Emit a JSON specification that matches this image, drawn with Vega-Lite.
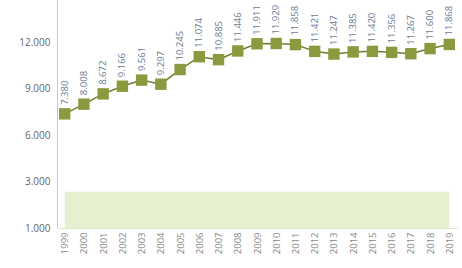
{
  "$schema": "https://vega.github.io/schema/vega-lite/v6.json",
  "width": 400,
  "height": 232,
  "autosize": {"type": "none"},
  "padding": {"left": 57, "top": -4, "right": 5, "bottom": 40},
  "config": {
    "view": {"stroke": null},
    "font": "Open Sans",
    "locale": {"number": {"decimal": ",", "thousands": ".", "grouping": [3], "currency": ["", "€"]}}
  },
  "data": {
    "values": [
      {"year": "1999", "value": 7380},
      {"year": "2000", "value": 8008},
      {"year": "2001", "value": 8672},
      {"year": "2002", "value": 9166},
      {"year": "2003", "value": 9561},
      {"year": "2004", "value": 9297},
      {"year": "2005", "value": 10245},
      {"year": "2006", "value": 11074},
      {"year": "2007", "value": 10885},
      {"year": "2008", "value": 11446},
      {"year": "2009", "value": 11911},
      {"year": "2010", "value": 11929},
      {"year": "2011", "value": 11858},
      {"year": "2012", "value": 11421},
      {"year": "2013", "value": 11247},
      {"year": "2014", "value": 11385},
      {"year": "2015", "value": 11420},
      {"year": "2016", "value": 11356},
      {"year": "2017", "value": 11267},
      {"year": "2018", "value": 11600},
      {"year": "2019", "value": 11868}
    ]
  },
  "layer": [
    {
      "data": {"values": [{"from": "1999", "to": "2019", "top": 2350, "base": 0}]},
      "mark": {"type": "rect", "color": "#e6efcf"},
      "encoding": {
        "x": {"field": "from", "type": "ordinal"},
        "x2": {"field": "to"},
        "y": {"field": "top", "type": "quantitative"},
        "y2": {"field": "base"}
      }
    },
    {
      "mark": {"type": "line", "color": "#6f7d2c", "strokeWidth": 1.5},
      "encoding": {
        "x": {"field": "year", "type": "ordinal"},
        "y": {"field": "value", "type": "quantitative"}
      }
    },
    {
      "mark": {"type": "square", "color": "#8a9a3e", "opacity": 1, "filled": true, "size": 130},
      "encoding": {
        "x": {"field": "year", "type": "ordinal"},
        "y": {"field": "value", "type": "quantitative"}
      }
    },
    {
      "mark": {"type": "text", "angle": 270, "align": "left", "baseline": "middle", "dx": 9, "fontSize": 9.5, "color": "#6b7b92"},
      "encoding": {
        "x": {"field": "year", "type": "ordinal"},
        "y": {"field": "value", "type": "quantitative"},
        "text": {"field": "value", "type": "quantitative", "format": ","}
      }
    }
  ],
  "encoding": {
    "x": {
      "field": "year",
      "type": "ordinal",
      "scale": {"type": "point", "padding": 0.4, "domain": ["1999","2000","2001","2002","2003","2004","2005","2006","2007","2008","2009","2010","2011","2012","2013","2014","2015","2016","2017","2018","2019"]},
      "axis": {"title": null, "labelAngle": -90, "labelFontSize": 9.5, "labelColor": "#888", "ticks": false, "domainColor": "#e0e6d0", "labelPadding": 4}
    },
    "y": {
      "type": "quantitative",
      "scale": {"domain": [0, 15000], "nice": false},
      "axis": {"title": null, "values": [0, 3000, 6000, 9000, 12000, 15000], "labelExpr": "datum.value == 0 ? '1.000' : format(datum.value, ',')", "labelFontSize": 10, "labelColor": "#666", "grid": false, "ticks": false, "domainColor": "#c8c8c8", "labelPadding": 7}
    }
  }
}
